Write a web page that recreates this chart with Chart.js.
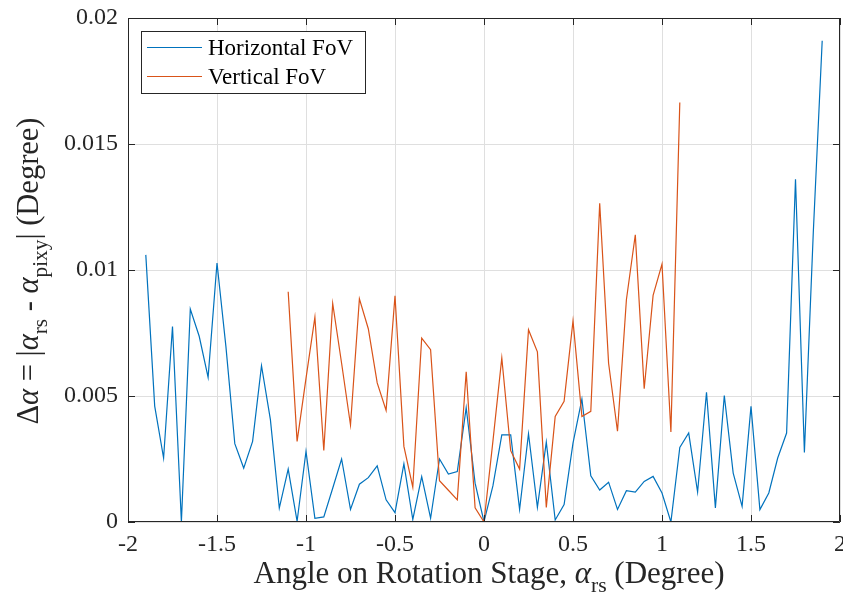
<!DOCTYPE html>
<html>
<head>
<meta charset="utf-8">
<script src="https://cdn.jsdelivr.net/npm/chart.js@4"></script>
<style>
  html, body { margin: 0; padding: 0; background: #fff; }
  #wrap { width: 843px; height: 608px; position: relative; }
</style>
</head>
<body>
<div id="wrap"><canvas id="chart-fov"></canvas></div>
<script>
// angle on rotation stage (deg) and |alpha_rs - alpha_pixy| (deg)
var hAngles = [-1.9, -1.85, -1.8, -1.75, -1.7, -1.65, -1.6, -1.55, -1.5, -1.45, -1.4, -1.35, -1.3, -1.25, -1.2, -1.15,
    -1.1, -1.05, -1.0, -0.95, -0.9, -0.85, -0.8, -0.75, -0.7, -0.65, -0.6, -0.55, -0.5, -0.45, -0.4, -0.35, -0.3,
    -0.25, -0.2, -0.15, -0.1, -0.05, 0, 0.05, 0.1, 0.15, 0.2, 0.25, 0.3, 0.35, 0.4, 0.45, 0.5, 0.55, 0.6, 0.65,
    0.7, 0.75, 0.8, 0.85, 0.9, 0.95, 1.0, 1.05, 1.1, 1.15, 1.2, 1.25, 1.3, 1.35, 1.4, 1.45, 1.5, 1.55, 1.6, 1.65,
    1.7, 1.75, 1.8, 1.85, 1.9];
var hError = [0.0106, 0.0046, 0.00254, 0.00776, 0, 0.00845, 0.00737, 0.00574, 0.01028, 0.00697, 0.00311, 0.00214,
    0.0032, 0.0062, 0.00406, 0.00055, 0.0021, 0.00003, 0.0028, 0.00015, 0.0002, 0.00134, 0.0025, 0.0005, 0.0015,
    0.00176, 0.00223, 0.00088, 0.00037, 0.00231, 0.0001, 0.0018, 0.00015, 0.0025, 0.0019, 0.002, 0.00454, 0.00154,
    0.00001, 0.00143, 0.00346, 0.00346, 0.0005, 0.0035, 0.00058, 0.00317, 0.00008, 0.00069, 0.00313, 0.00488,
    0.00183, 0.00127, 0.00158, 0.0005, 0.00124, 0.00119, 0.00161, 0.00181, 0.00115, 0, 0.00296, 0.00353, 0.00119,
    0.00515, 0.00056, 0.00502, 0.00194, 0.00062, 0.00459, 0.00049, 0.00115, 0.00254, 0.00353, 0.0136, 0.00276,
    0.0115, 0.0191];

var vAngles = [-1.1, -1.05, -1.0, -0.95, -0.9, -0.85, -0.8, -0.75, -0.7, -0.65, -0.6, -0.55, -0.5, -0.45, -0.4,
    -0.35, -0.3, -0.25, -0.2, -0.15, -0.1, -0.05, 0, 0.05, 0.1, 0.15, 0.2, 0.25, 0.3, 0.35, 0.4, 0.45, 0.5, 0.55,
    0.6, 0.65, 0.7, 0.75, 0.8, 0.85, 0.9, 0.95, 1.0, 1.05, 1.1];
var vError = [0.00914, 0.0032, 0.0057, 0.00813, 0.00284, 0.00867, 0.0063, 0.00385, 0.00886, 0.00767, 0.00552,
    0.00443, 0.00898, 0.003, 0.00138, 0.0073, 0.00684, 0.00164, 0.00126, 0.00088, 0.00596, 0.00056, 0, 0.0032,
    0.00651, 0.00283, 0.0021, 0.00763, 0.00675, 0.00058, 0.00419, 0.00479, 0.00798, 0.00419, 0.00439, 0.01265,
    0.0063, 0.0036, 0.00882, 0.0114, 0.00529, 0.00899, 0.01023, 0.00357, 0.01665];

var seriesNames = ['Horizontal FoV', 'Vertical FoV'];
var seriesColors = ['#0072BD', '#D95319'];
var xTicks = [-2, -1.5, -1, -0.5, 0, 0.5, 1, 1.5, 2];
var yTicks = [0, 0.005, 0.01, 0.015, 0.02];

var serif = '"Liberation Serif", "Times New Roman", serif';
var axisColor = '#262626';

function toPoints(xs, ys) {
    return xs.map(function (x, i) { return { x: x, y: ys[i] }; });
}

// draws a label made of pieces, some of them subscripts / italic
function richText(ctx, parts, size, x, y) {
    var w = 0;
    parts.forEach(function (p) {
        ctx.font = (p.it ? 'italic ' : '') + (p.sub ? size * 0.7 : size) + 'px ' + serif;
        p.w = ctx.measureText(p.t).width;
        w += p.w;
    });
    var cx = x - w / 2;
    parts.forEach(function (p) {
        ctx.font = (p.it ? 'italic ' : '') + (p.sub ? size * 0.7 : size) + 'px ' + serif;
        ctx.fillText(p.t, cx, y + (p.sub ? size * 0.3 : 0));
        cx += p.w;
    });
}

var xTitle = [
    { t: 'Angle on Rotation Stage, ' }, { t: 'α', it: true }, { t: 'rs', sub: true }, { t: ' (Degree)' }
];
var yTitle = [
    { t: 'Δ' }, { t: 'α', it: true }, { t: ' = |' }, { t: 'α', it: true }, { t: 'rs', sub: true },
    { t: ' - ' }, { t: 'α', it: true }, { t: 'pixy', sub: true }, { t: '| (Degree)' }
];

var matlabAxes = {
    id: 'matlabAxes',
    afterDraw: function (chart) {
        var ctx = chart.ctx, a = chart.chartArea;
        var xs = chart.scales.x, ys = chart.scales.y;
        ctx.save();
        // box + inward ticks
        ctx.strokeStyle = axisColor;
        ctx.lineWidth = 1;
        ctx.beginPath();
        ctx.rect(a.left + 0.5, a.top + 0.5, a.right - a.left - 1, a.bottom - a.top - 1);
        xTicks.forEach(function (v) {
            var px = Math.round(xs.getPixelForValue(v)) + 0.5;
            ctx.moveTo(px, a.bottom); ctx.lineTo(px, a.bottom - 7);
            ctx.moveTo(px, a.top); ctx.lineTo(px, a.top + 7);
        });
        yTicks.forEach(function (v) {
            var py = Math.round(ys.getPixelForValue(v)) + 0.5;
            ctx.moveTo(a.left, py); ctx.lineTo(a.left + 7, py);
            ctx.moveTo(a.right, py); ctx.lineTo(a.right - 7, py);
        });
        ctx.stroke();

        // axis titles
        ctx.fillStyle = axisColor;
        ctx.textBaseline = 'alphabetic';
        ctx.textAlign = 'left';
        richText(ctx, xTitle, 31, 489, 583);
        ctx.save();
        ctx.translate(38, 271);
        ctx.rotate(-Math.PI / 2);
        richText(ctx, yTitle, 30.5, 0, 0);
        ctx.restore();

        // legend box, top left inside the axes
        var lx = 141, ly = 31, lw = 224, lh = 62;
        ctx.fillStyle = '#fff';
        ctx.fillRect(lx, ly, lw, lh);
        ctx.strokeStyle = axisColor;
        ctx.strokeRect(lx + 0.5, ly + 0.5, lw, lh);
        ctx.font = '23px ' + serif;
        ctx.textBaseline = 'middle';
        seriesNames.forEach(function (name, i) {
            var yy = 47.5 + i * 29;
            ctx.strokeStyle = seriesColors[i];
            ctx.lineWidth = 1.2;
            ctx.beginPath();
            ctx.moveTo(147, yy); ctx.lineTo(202, yy);
            ctx.stroke();
            ctx.fillStyle = '#000';
            ctx.fillText(name, 208, yy + 1);
        });
        ctx.restore();
    }
};

var ctx = document.getElementById('chart-fov');
var fovChart = new Chart(ctx, {
    type: 'line',
    data: {
        datasets: [
            {
                label: seriesNames[0],
                data: toPoints(hAngles, hError),
                borderColor: seriesColors[0],
                borderWidth: 1.2,
                pointRadius: 0,
                tension: 0,
                order: 1
            },
            {
                label: seriesNames[1],
                data: toPoints(vAngles, vError),
                borderColor: seriesColors[1],
                borderWidth: 1.2,
                pointRadius: 0,
                tension: 0,
                order: 0
            }
        ]
    },
    options: {
        responsive: true,
        maintainAspectRatio: false,
        animation: false,
        layout: { padding: { left: 0, right: 3, top: 18, bottom: 0 } },
        plugins: { legend: { display: false }, tooltip: { enabled: false } },
        scales: {
            x: {
                type: 'linear',
                min: -2, max: 2,
                afterBuildTicks: function (s) { s.ticks = xTicks.map(function (v) { return { value: v }; }); },
                afterFit: function (s) { s.height = 86; s.paddingLeft = 0; s.paddingRight = 0; },
                ticks: {
                    color: axisColor,
                    font: { family: serif, size: 24 },
                    padding: 8,
                    maxRotation: 0,
                    callback: function (v) { return String(Math.round(v * 100) / 100); }
                },
                grid: { color: '#dfdfdf', drawTicks: false },
                border: { display: false }
            },
            y: {
                min: 0, max: 0.02,
                afterBuildTicks: function (s) { s.ticks = yTicks.map(function (v) { return { value: v }; }); },
                afterFit: function (s) { s.width = 128; s.paddingTop = 0; s.paddingBottom = 0; },
                ticks: {
                    color: axisColor,
                    font: { family: serif, size: 24 },
                    padding: 10,
                    callback: function (v) { return String(Math.round(v * 1000) / 1000); }
                },
                grid: { color: '#dfdfdf', drawTicks: false },
                border: { display: false }
            }
        }
    },
    plugins: [matlabAxes]
});
</script>
</body>
</html>
